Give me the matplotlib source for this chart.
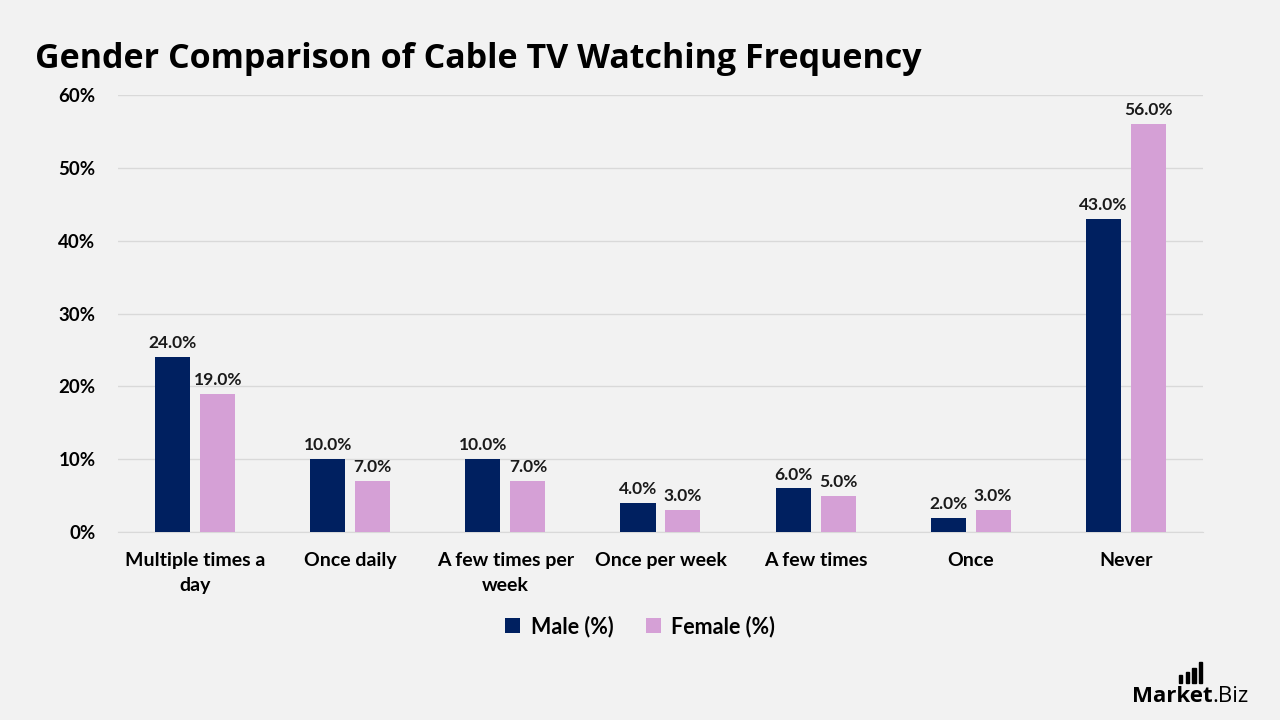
import numpy as np
import matplotlib.pyplot as plt
from matplotlib.patches import Rectangle

categories = ['Multiple times a\nday', 'Once daily', 'A few times per\nweek', 'Once per week',
              'A few times', 'Once', 'Never']
male = [24, 10, 10, 4, 6, 2, 43]
female = [19, 7, 7, 3, 5, 3, 56]

bg = '#F2F2F2'
male_color = '#002060'
female_color = '#D5A0D6'

plt.rcParams['font.family'] = ['Lato', 'DejaVu Sans']

fig = plt.figure(figsize=(12.8, 7.2), dpi=100, facecolor=bg)
ax = fig.add_axes([0.092, 0.261, 0.848, 0.607])
ax.set_facecolor(bg)

x = np.arange(len(categories))
w = 0.226
off = 0.145
b1 = ax.bar(x - off, male, w, color=male_color, label='Male (%)', zorder=3)
b2 = ax.bar(x + off, female, w, color=female_color, label='Female (%)', zorder=3)

for bars, vals in ((b1, male), (b2, female)):
    for rect, v in zip(bars, vals):
        ax.text(rect.get_x() + rect.get_width() / 2, v + 0.8, f'{v:.1f}%',
                ha='center', va='bottom', fontsize=12.5, fontweight='bold', color='#1a1a1a')

ax.set_xlim(-0.5, len(categories) - 0.5)
ax.set_ylim(0, 60)
ax.set_yticks(range(0, 61, 10))
ax.set_yticklabels([f'{t}%' for t in range(0, 61, 10)], fontsize=13.5, fontweight='bold')
ax.set_xticks(x)
ax.set_xticklabels(categories, fontsize=14, fontweight='bold', linespacing=1.6)
ax.yaxis.grid(True, color='#D9D9D9', linewidth=1, zorder=0)
ax.tick_params(axis='x', length=0, pad=14)
ax.tick_params(axis='y', length=0, pad=16)
for s in ['top', 'right', 'left']:
    ax.spines[s].set_visible(False)
ax.spines['bottom'].set_color('#D9D9D9')

fig.legend(handles=[b1, b2], loc='center', bbox_to_anchor=(0.5, 0.13), ncol=2, frameon=False,
           prop={'size': 15.5, 'weight': 'bold'}, handlelength=0.7, handleheight=0.7,
           handletextpad=0.5, columnspacing=1.5)

fig.text(0.027, 0.918, 'Gender Comparison of Cable TV Watching Frequency',
         fontsize=24.5, fontweight='bold', ha='left', va='center', family=['Open Sans', 'DejaVu Sans'])

# logo
r = fig.canvas.get_renderer()
t1 = fig.text(0.884, 0.025, 'Market', fontsize=16, fontweight='bold', ha='left', va='baseline',
              family=['Open Sans', 'DejaVu Sans'])
bb = t1.get_window_extent(r).transformed(fig.transFigure.inverted())
fig.text(bb.x1, 0.025, '.Biz', fontsize=16, ha='left', va='baseline',
         family=['Open Sans', 'DejaVu Sans'])
for i, h in enumerate([0.010, 0.015, 0.020, 0.028]):
    fig.patches.append(Rectangle((bb.x1 - 0.026 + i * 0.0052, 0.052), 0.0028, h,
                                 transform=fig.transFigure, color='black'))

fig.savefig('out.png', dpi=100, facecolor=bg)
